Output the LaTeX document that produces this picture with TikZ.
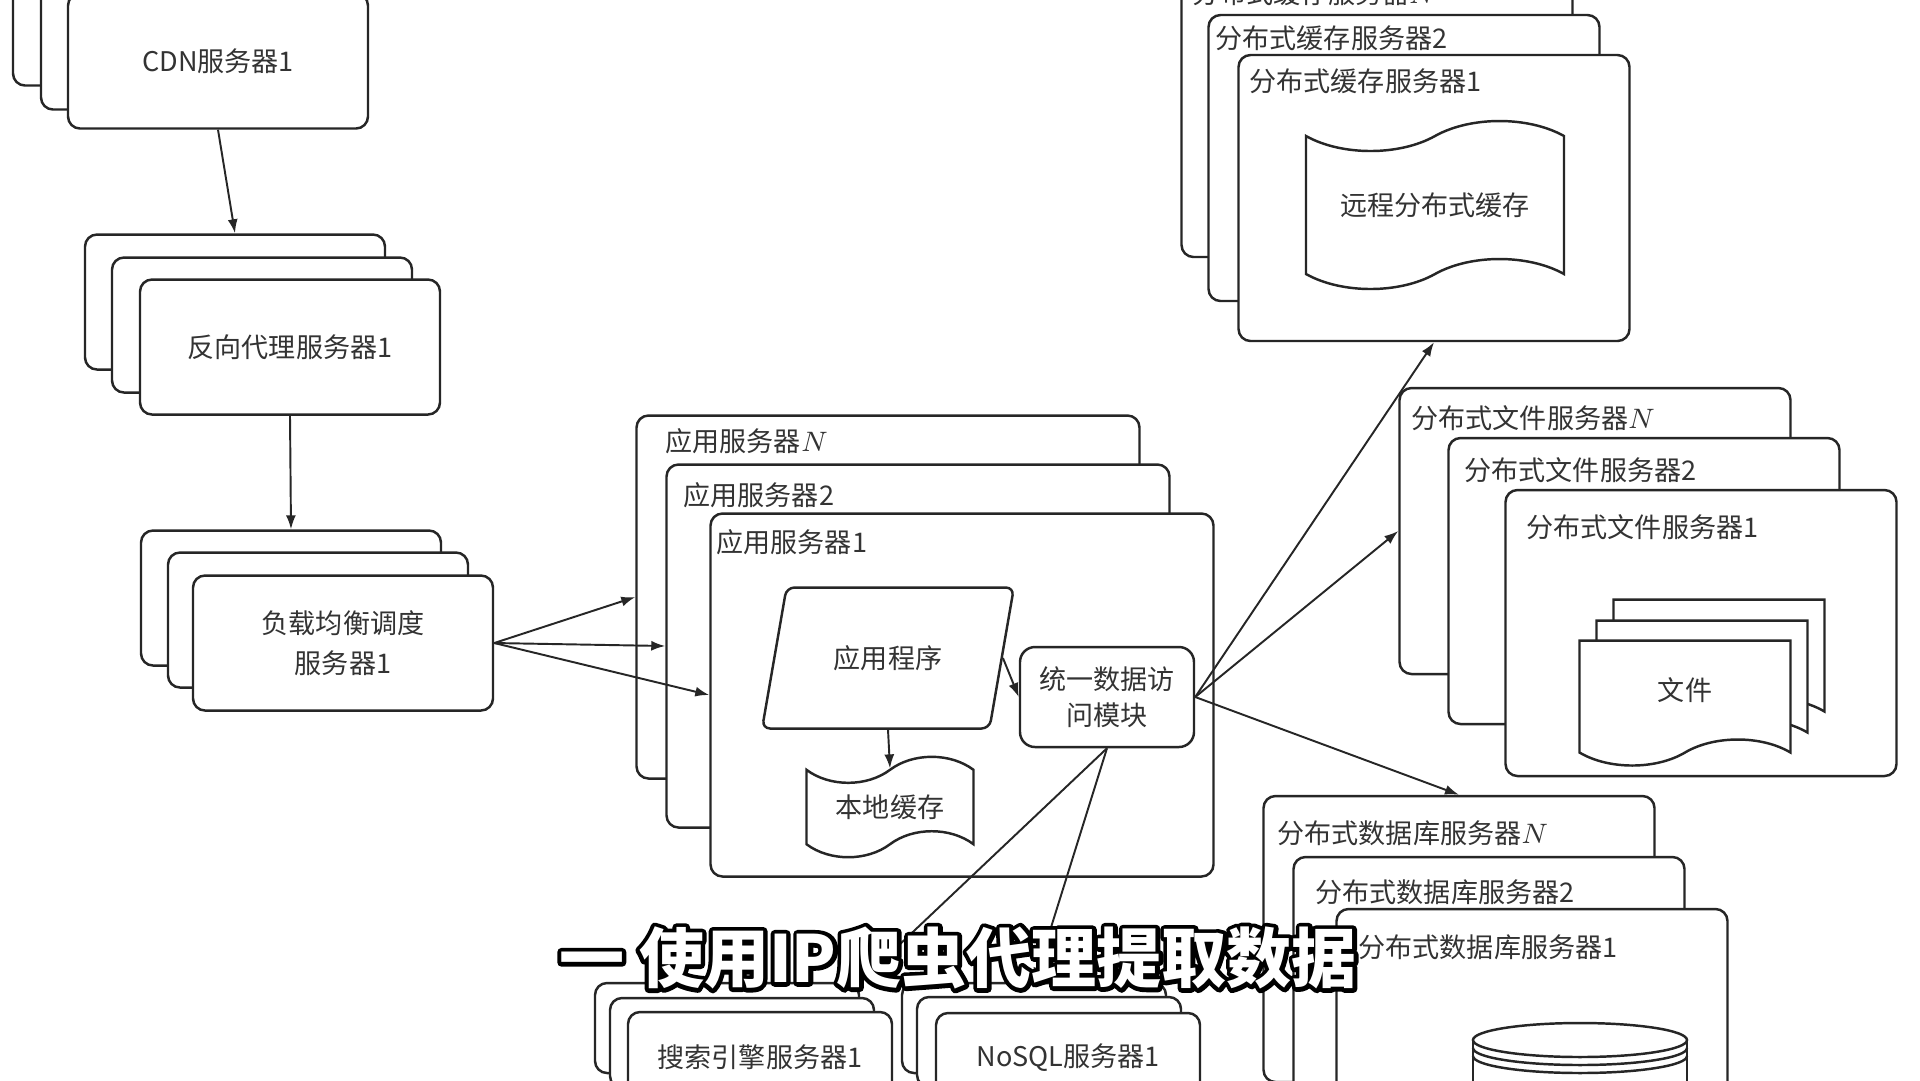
\documentclass[tikz,border=0pt]{standalone}
\usepackage{fontspec}
\setmainfont{Noto Sans CJK SC}
\usepackage{tikz}
\usetikzlibrary{arrows.meta,positioning,calc,shapes.geometric,shapes.symbols}
\definecolor{LineGray}{HTML}{262626}
\definecolor{TextGray}{HTML}{333333}
\newcommand{\lblsize}{\fontsize{7.7pt}{11.4pt}\selectfont}
\newcommand{\capsize}{\fontsize{18.5pt}{20pt}\selectfont\bfseries}

\begin{document}
\begin{tikzpicture}[x=0.1mm,y=-0.1mm,
  srv/.style={draw=LineGray,fill=white,line width=0.7pt,rounded corners=1.2mm,minimum width=30mm,minimum height=13.5mm,align=center,font=\lblsize,text=TextGray},
  low/.style={srv,minimum width=26.4mm,minimum height=9mm},
  big/.style={draw=LineGray,fill=white,line width=0.7pt,rounded corners=1.2mm,minimum width=39.1mm,minimum height=28.6mm},
  app/.style={big,minimum width=50.3mm,minimum height=36.3mm},
  lbl/.style={anchor=west,inner sep=0pt,font=\lblsize,text=TextGray},
  prog/.style={trapezium,trapezium left angle=72,trapezium right angle=108,trapezium stretches=true,draw=LineGray,fill=white,line width=0.7pt,rounded corners=0.8mm,minimum width=25.2mm,minimum height=14.1mm,font=\lblsize,text=TextGray},
  unit/.style={draw=LineGray,fill=white,line width=0.7pt,rounded corners=1.5mm,minimum width=17.4mm,minimum height=10mm,align=center,font=\fontsize{7.7pt}{10.2pt}\selectfont,text=TextGray},
  wave/.style={tape,draw=LineGray,fill=white,line width=0.7pt,tape bend height=2.6mm,font=\lblsize,text=TextGray},
  doc/.style={wave,tape bend top=none,minimum width=21.1mm,minimum height=12.5mm},
  edge/.style={-{Latex[length=1.4mm,width=1mm]},line width=0.55pt,LineGray}
]
\useasboundingbox[fill=white] (0,0) rectangle (1920,1080);
\clip (0,0) rectangle (1920,1080);

% CDN
\node[srv] (cdn3) at (163,18) {};
\node[srv] (cdn2) at (191,42) {};
\node[srv] (cdn1) at (218,61) {CDN服务器1};
% reverse proxy
\node[srv] (rp3) at (235,302) {};
\node[srv] (rp2) at (262,325) {};
\node[srv] (rp1) at (290,347) {反向代理服务器1};
% load balancer
\node[srv] (lb3) at (291,598) {};
\node[srv] (lb2) at (318,620) {};
\node[srv] (lb1) at (343,643) {负载均衡调度\\服务器1};

% application servers
\node[app] (appN) at (888,597) {};
\node[lbl] (appNl) at (665,441) {应用服务器$N$};
\node[app] (app2) at (918,646) {};
\node[lbl] (app2l) at (683,495) {应用服务器2};
\node[app] (app1) at (962,695) {};
\node[lbl] (app1l) at (716,542) {应用服务器1};
\node[prog] (prog) at (888,658) {应用程序};
\node[unit] (module) at (1107,697) {统一数据访\\问模块};
\node[wave,minimum width=16.7mm,minimum height=10mm] (lcache) at (890,807) {本地缓存};

% distributed cache
\node[big] (cacheN) at (1377,114) {};
\node[lbl] (cacheNl) at (1192,-7) {分布式缓存服务器$N$};
\node[big] (cache2) at (1404,158) {};
\node[lbl] (cache2l) at (1215,38) {分布式缓存服务器2};
\node[big] (cache1) at (1434,198) {};
\node[lbl] (cache1l) at (1249,81) {分布式缓存服务器1};
\node[wave,minimum width=25.8mm,minimum height=16.8mm,tape bend height=3mm] (rcache) at (1435,205) {远程分布式缓存};

% distributed files
\node[big] (fileN) at (1595,531) {};
\node[lbl] (fileNl) at (1411,418) {分布式文件服务器$N$};
\node[big] (file2) at (1644,581) {};
\node[lbl] (file2l) at (1464,470) {分布式文件服务器2};
\node[big] (file1) at (1701,633) {};
\node[lbl] (file1l) at (1526,527) {分布式文件服务器1};
\node[doc] (doc3) at (1719,649) {};
\node[doc] (doc2) at (1702,670) {};
\node[doc] (doc1) at (1685,690) {文件};

% distributed database
\node[big] (dbN) at (1459,939) {};
\node[lbl] (dbNl) at (1277,833) {分布式数据库服务器$N$};
\node[big] (db2) at (1489,1000) {};
\node[lbl] (db2l) at (1315,892) {分布式数据库服务器2};
\node[big] (db1) at (1532,1052) {};
\node[lbl] (db1l) at (1358,947) {分布式数据库服务器1};
\draw[LineGray,line width=0.7pt,fill=white] (1473,1040) -- (1473,1100) -- (1687,1100) -- (1687,1040);
\draw[LineGray,line width=0.7pt,fill=white] (1580,1040) ellipse (10.7mm and 1.7mm);
\draw[LineGray,line width=0.7pt] (1473,1048) arc[start angle=180,end angle=360,x radius=10.7mm,y radius=1.7mm];
\draw[LineGray,line width=0.7pt] (1473,1056) arc[start angle=180,end angle=360,x radius=10.7mm,y radius=1.7mm];

% search engine and NoSQL
\node[low] (search3) at (727,1028) {};
\node[low] (search2) at (742,1043) {};
\node[low] (search1) at (760,1057) {搜索引擎服务器1};
\node[low] (nosql3) at (1034,1028) {};
\node[low] (nosql2) at (1049,1042) {};
\node[low] (nosql1) at (1068,1058) {NoSQL服务器1};

\draw[edge] (cdn1.south) -- (rp3.north);
\draw[edge] (rp1.south) -- (lb3.north);
\draw[edge] (lb1.east) -- (appN.west);
\draw[edge] (lb1.east) -- (app2.west);
\draw[edge] (lb1.east) -- (app1.west);
\draw[edge] (prog.east) -- (module.west);
\draw[edge] (prog.south) -- (lcache.north);
\draw[edge] (module.east) -- (cache1.south);
\draw[edge] (module.east) -- (fileN.west);
\draw[edge] (module.east) -- (dbN.north);
\draw[edge] (module.south) -- (search3.north east);
\draw[edge] (module.south) -- (nosql3.north);

% subtitle: black outline, then white fill
\node[font=\capsize,text=black] (capline) at (958,958) {\special{pdf:literal direct 2.4 w 1 j 1 Tr}一 使用IP爬虫代理提取数据\special{pdf:literal direct 0 Tr}};
\node[font=\capsize,text=white] (caption) at (capline) {一 使用IP爬虫代理提取数据};
\end{tikzpicture}
\end{document}
